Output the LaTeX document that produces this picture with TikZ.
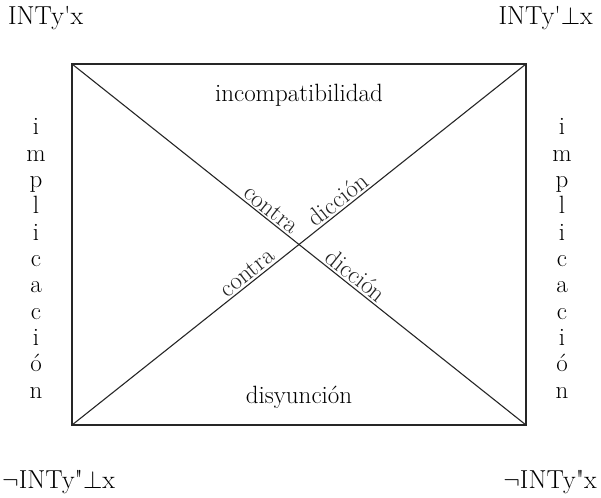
\documentclass[tikz,border=0pt]{standalone}
\begin{document}
\begin{tikzpicture}[x=1pt,y=-1pt,
  lbl/.style={inner sep=0pt,font=\fontsize{25}{28}\selectfont},
  clbl/.style={inner sep=0pt,font=\fontsize{26}{28}\selectfont},
  dlbl/.style={inner sep=2pt,font=\fontsize{25}{28}\selectfont,sloped,anchor=south},
  edge/.style={line width=1.1pt,black!85}]
\useasboundingbox (0,0) rectangle (601,497);
\coordinate (tl) at (72,64);
\coordinate (tr) at (526,64);
\coordinate (bl) at (72,425);
\coordinate (br) at (526,425);
\draw[edge] (tl) rectangle (br);
\draw[edge] (tl) -- node[dlbl,pos=0.425] (c1) {contra} node[dlbl,pos=0.61] (d2) {dicción} (br);
\draw[edge] (bl) -- node[dlbl,pos=0.40] (c2) {contra} node[dlbl,pos=0.60] (d1) {dicción} (tr);
\node[clbl,anchor=base west] (a) at (8,25) {INTy\textquotesingle x};
\node[clbl,anchor=base east] (b) at (593,25) {INTy\textquotesingle$\perp$x};
\node[clbl,anchor=base west] (c) at (2,488) {$\neg$INTy\textquotedbl$\perp$x};
\node[clbl,anchor=base east] (d) at (597,488) {$\neg$INTy\textquotedbl x};
\node[lbl,anchor=base] (inc) at (299,102) {incompatibilidad};
\node[lbl,anchor=base] (dis) at (299,403) {disyunción};
\foreach \l [count=\i] in {i,m,p,l,i,c,a,c,i,ó,n}{
  \node[lbl,anchor=base] (L\i) at (36,{135+26.3*(\i-1)}) {\l};
  \node[lbl,anchor=base] (R\i) at (562,{135+26.3*(\i-1)}) {\l};
}
\end{tikzpicture}
\end{document}
